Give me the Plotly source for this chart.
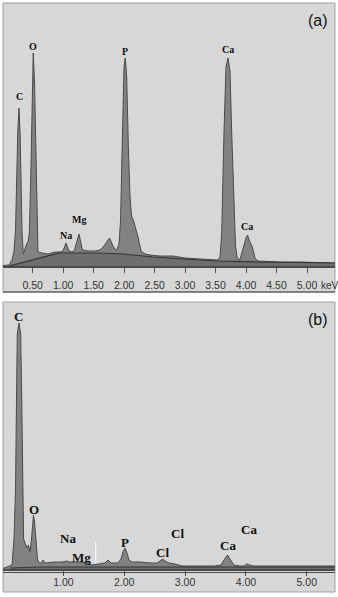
import plotly.graph_objects as go

# ---------------- data ----------------
# Panel (a): EDS spectrum, energy (keV) and relative counts
a_kev = [0.013, 0.112, 0.161, 0.194, 0.218, 0.238, 0.256, 0.276, 0.295, 0.312,
         0.325, 0.346, 0.366, 0.399, 0.423, 0.445, 0.469, 0.489, 0.509, 0.530,
         0.550, 0.568, 0.587, 0.653, 0.751, 0.866, 0.948, 0.997, 1.047, 1.096,
         1.145, 1.186, 1.260, 1.317, 1.407, 1.522, 1.604, 1.670, 1.760, 1.818,
         1.850, 1.883, 1.916, 1.941, 1.970, 1.998, 2.018, 2.042, 2.069, 2.096,
         2.121, 2.151, 2.187, 2.233, 2.277, 2.343, 2.425, 2.589, 2.802, 2.999,
         3.245, 3.442, 3.540, 3.573, 3.601, 3.638, 3.671, 3.704, 3.737, 3.765,
         3.802, 3.827, 3.856, 3.893, 3.917, 3.955, 3.999, 4.024, 4.057, 4.103,
         4.147, 4.196, 4.557, 4.885, 5.459]
a_counts = [0.5, 1, 6, 15, 35, 90, 135, 158, 130, 75,
            35, 12, 16, 22, 24, 33, 90, 170, 213, 185,
            110, 45, 14, 13, 12, 14, 14, 15, 23, 15,
            14, 16, 32, 16, 15, 15, 16, 20, 28, 20,
            17, 16, 22, 45, 133, 199, 208, 190, 120, 70,
            50, 46, 38, 28, 15, 12, 11, 10, 10, 8,
            7, 6, 6, 9, 33, 133, 199, 208, 195, 133,
            50, 20, 8, 6, 10, 19, 28, 31, 25, 19,
            8, 5, 4, 4, 3]
a_bg_kev = [0.112, 0.932, 1.604, 1.982, 2.474, 2.802, 3.245, 3.524, 4.180, 5.459]
a_bg = [0, 13, 13, 12, 9, 8, 6, 5, 4, 3]
a_ticks = [0.5, 1.0, 1.5, 2.0, 2.5, 3.0, 3.5, 4.0, 4.5, 5.0]
a_peak_names = ["C", "O", "Na", "Mg", "P", "Ca", "Ca"]
a_peak_kev = [0.276, 0.513, 1.047, 1.260, 2.015, 3.704, 4.022]
a_peak_lab_y = [169, 219, 30, 46, 214, 216, 39]

# Panel (b)
b_kev = [0.008, 0.123, 0.156, 0.189, 0.214, 0.230, 0.243, 0.271, 0.299, 0.316,
         0.332, 0.347, 0.370, 0.403, 0.427, 0.452, 0.477, 0.493, 0.509, 0.529,
         0.551, 0.575, 0.600, 0.633, 0.666, 0.698, 0.863, 0.978, 1.060, 1.109,
         1.274, 1.405, 1.471, 1.602, 1.684, 1.734, 1.783, 1.898, 1.947, 1.980,
         2.013, 2.046, 2.078, 2.128, 2.260, 2.424, 2.539, 2.588, 2.629, 2.670,
         2.736, 2.835, 2.884, 2.949, 3.492, 3.591, 3.640, 3.698, 3.747, 3.805,
         3.903, 3.969, 4.010, 4.067, 4.117, 4.889, 5.464]
b_counts = [0.5, 3, 4, 30, 80, 170, 235, 246, 235, 170,
            72, 30, 26, 21, 24, 17, 30, 47, 54, 46,
            25, 10, 6, 6, 9, 6, 7, 7, 8, 7,
            7, 6, 4, 5, 6, 9, 6, 6, 10, 17,
            21, 16, 9, 7, 7, 6, 6, 8, 10, 8,
            6, 5, 4, 3, 3, 4, 9, 14, 9, 4,
            3, 3, 5, 4, 3, 3, 3]
b_bg_kev = [0.12, 0.60, 2.90, 5.464]
b_bg = [1, 2, 2, 2]
b_ticks = [1.0, 2.0, 3.0, 4.0, 5.0]
b_peak_names = ["C", "O", "Na", "Mg", "P", "Cl", "Cl", "Ca", "Ca"]
b_peak_kev = [0.271, 0.513, 1.076, 1.306, 2.013, 2.631, 2.868, 3.698, 4.051]
b_peak_lab_y = [253, 60, 31, 12, 27, 17, 36, 24, 40]

# ---------------- styling ----------------
W, H = 338, 597
PANEL = "#d7d7d7"
PEAK = "#828282"
PEAK_LINE = "#4a4a4a"
BG_FILL = "#6e6e6e"
BG_LINE = "#333333"


def px(x):
    return x / W


def py(y):
    return 1 - y / H


fig = go.Figure()

fig.add_trace(go.Scatter(x=a_kev, y=a_counts, mode="lines", fill="tozeroy",
                         fillcolor=PEAK, line=dict(color=PEAK_LINE, width=1),
                         xaxis="x", yaxis="y", hoverinfo="skip", showlegend=False))
fig.add_trace(go.Scatter(x=a_bg_kev, y=a_bg, mode="lines", fill="tozeroy",
                         fillcolor=BG_FILL, line=dict(color=BG_LINE, width=1.2),
                         xaxis="x", yaxis="y", hoverinfo="skip", showlegend=False))
fig.add_trace(go.Scatter(x=b_kev, y=b_counts, mode="lines", fill="tozeroy",
                         fillcolor=PEAK, line=dict(color=PEAK_LINE, width=1),
                         xaxis="x2", yaxis="y2", hoverinfo="skip", showlegend=False))
fig.add_trace(go.Scatter(x=b_bg_kev, y=b_bg, mode="lines", fill="tozeroy",
                         fillcolor=BG_FILL, line=dict(color=BG_LINE, width=1.2),
                         xaxis="x2", yaxis="y2", hoverinfo="skip", showlegend=False))

tickfont = dict(family="Liberation Sans, Arial, sans-serif", size=10.5, color="#333333")

fig.update_layout(
    width=W, height=H, autosize=False,
    margin=dict(l=0, r=0, t=0, b=0),
    paper_bgcolor="white", plot_bgcolor="rgba(0,0,0,0)",
    showlegend=False,
    xaxis=dict(domain=[px(3), px(335)], range=[(3 - 2.2) / 60.96, (335 - 2.2) / 60.96],
               anchor="y", tickvals=a_ticks, tickformat=".2f", ticks="outside",
               ticklen=5, tickcolor="#555555", showline=True, linecolor="#4a4a4a",
               linewidth=2, showgrid=False, zeroline=False, tickfont=tickfont,
               ticklabelstandoff=3, fixedrange=True),
    yaxis=dict(domain=[py(266), py(4)], range=[0, 262], visible=False, fixedrange=True),
    xaxis2=dict(domain=[px(3), px(335)], range=[(3 - 2.5) / 60.85, (335 - 2.5) / 60.85],
                anchor="y2", tickvals=b_ticks, tickformat=".2f", ticks="outside",
                ticklen=5, tickcolor="#555555", showline=True, linecolor="#4a4a4a",
                linewidth=2, showgrid=False, zeroline=False, tickfont=tickfont,
                ticklabelstandoff=-3, fixedrange=True),
    yaxis2=dict(domain=[py(569), py(303)], range=[0, 266], visible=False, fixedrange=True),
)

shapes = [
    dict(type="rect", xref="paper", yref="paper", x0=px(3), x1=px(335), y0=py(292), y1=py(3),
         fillcolor=PANEL, line=dict(color="#a0a0a0", width=1), layer="below"),
    dict(type="line", xref="paper", yref="paper", x0=px(3), x1=px(335), y0=py(292), y1=py(292),
         line=dict(color="#6a6a6a", width=1.5), layer="below"),
    dict(type="rect", xref="paper", yref="paper", x0=px(3), x1=px(335), y0=py(592), y1=py(302),
         fillcolor=PANEL, line=dict(color="#a0a0a0", width=1), layer="below"),
    dict(type="line", xref="paper", yref="paper", x0=px(3), x1=px(335), y0=py(572.5), y1=py(572.5),
         line=dict(color="#4a4a4a", width=1), layer="above"),
    dict(type="line", xref="x2", yref="y2", x0=1.532, x1=1.532, y0=6, y1=27,
         line=dict(color="white", width=1), layer="above"),
]
fig.update_layout(shapes=shapes)

ann = []
for name, xk, yv in zip(a_peak_names, a_peak_kev, a_peak_lab_y):
    ann.append(dict(x=xk, y=yv, xref="x", yref="y", text="<b>" + name + "</b>", showarrow=False,
                    font=dict(family="Liberation Serif, serif", size=10, color="#111111"),
                    xanchor="center", yanchor="middle"))
for name, xk, yv in zip(b_peak_names, b_peak_kev, b_peak_lab_y):
    ann.append(dict(x=xk, y=yv, xref="x2", yref="y2", text="<b>" + name + "</b>", showarrow=False,
                    font=dict(family="Liberation Serif, serif", size=13, color="#111111"),
                    xanchor="center", yanchor="middle"))
ann.append(dict(x=px(318), y=py(20), xref="paper", yref="paper", text="(a)", showarrow=False,
                font=dict(family="Liberation Sans, Arial, sans-serif", size=16, color="#111111"),
                xanchor="center", yanchor="middle"))
ann.append(dict(x=px(318), y=py(319), xref="paper", yref="paper", text="(b)", showarrow=False,
                font=dict(family="Liberation Sans, Arial, sans-serif", size=16, color="#111111"),
                xanchor="center", yanchor="middle"))
ann.append(dict(x=px(319), y=py(285), xref="paper", yref="paper", text="keV", showarrow=False,
                font=dict(family="Liberation Sans, Arial, sans-serif", size=10, color="#333333"),
                xanchor="left", yanchor="middle"))
fig.update_layout(annotations=ann)

fig.write_html("out.html")
